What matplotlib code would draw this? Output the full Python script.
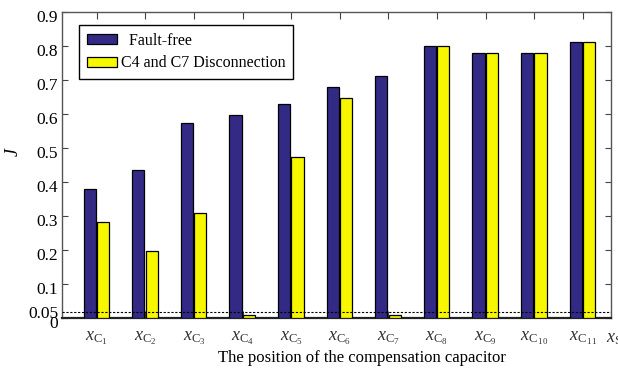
import matplotlib
matplotlib.use("Agg")
import matplotlib.pyplot as plt
import matplotlib.transforms as mtransforms
import numpy as np

plt.rcParams['font.family'] = 'Liberation Serif'
plt.rcParams['mathtext.fontset'] = 'custom'
plt.rcParams['mathtext.rm'] = 'Liberation Serif'
plt.rcParams['mathtext.it'] = 'Liberation Serif:italic'

# J index per capacitor position
positions = ['1', '2', '3', '4', '5', '6', '7', '8', '9', '\\,10', '\\,11']
fault_free = [0.379, 0.436, 0.573, 0.596, 0.629, 0.679, 0.711, 0.799, 0.780, 0.780, 0.811]
c4_c7_off = [0.281, 0.197, 0.308, 0.008, 0.473, 0.646, 0.008, 0.799, 0.780, 0.780, 0.811]
yticks = [0, 0.1, 0.2, 0.3, 0.4, 0.5, 0.6, 0.7, 0.8, 0.9]
ytick_labels = ['0', '0.1', '0.2', '0.3', '0.4', '0.5', '0.6', '0.7', '0.8', '0.9']
threshold_pos = 0.018  # dotted threshold line
threshold_label_pos = 0.03

x = np.arange(1, len(positions) + 1)
w = 0.25

fig = plt.figure(figsize=(6.18, 3.72), dpi=100)
ax = fig.add_axes([0.1008, 0.1452, 0.8874, 0.8226])

ax.bar(x - 0.145, fault_free, w, color='#332a85', edgecolor='black', linewidth=0.9,
       label='  Fault-free', zorder=3)
ax.bar(x + 0.13, c4_c7_off, w, color='#f7f700', edgecolor='black', linewidth=0.9,
       label='C4 and C7 Disconnection', zorder=3)
ax.axhline(threshold_pos, color='black', linestyle=(0, (2, 1.5)), linewidth=0.8, zorder=4)

ax.set_xlim(0.292, 11.576)
ax.set_ylim(0, 0.9)
ax.set_xticks(x)
ax.set_xticklabels([r'$x_{\mathrm{C}_{%s}}$' % p for p in positions], fontsize=13, color='#333333')
ax.set_yticks(yticks)
ax.set_yticklabels(ytick_labels, fontsize=12.5)
ax.set_yticks([threshold_label_pos], minor=True)
ax.set_yticklabels(['0.05'], minor=True, fontsize=12.5)
ax.tick_params(axis='both', direction='in', length=4, top=True, right=True, color='#444444')
ax.tick_params(axis='x', pad=8, length=5)
ax.tick_params(axis='y', pad=3)
ax.tick_params(axis='y', which='minor', length=0, pad=3)
ax.tick_params(axis='x', which='minor', bottom=False, top=False)

# nudge y labels a little downward
shift = mtransforms.ScaledTranslation(0, -4 / 100, fig.dpi_scale_trans)
for lbl in ax.get_yticklabels() + ax.get_yticklabels(minor=True):
    lbl.set_transform(lbl.get_transform() + shift)

for side in ['left', 'top', 'right']:
    ax.spines[side].set_color('#555555')
    ax.spines[side].set_linewidth(1.0)
ax.spines['bottom'].set_color('#222222')
ax.spines['bottom'].set_linewidth(1.6)

ax.set_xlabel('The position of the compensation capacitor', fontsize=12)
ax.xaxis.set_label_coords(0.5465, -0.105)
ax.set_ylabel(r'$J$', fontsize=13)
ax.yaxis.set_label_coords(-0.074, 0.542)

fig.text(0.981, 0.09, r'$x_{\mathrm{S}}$', fontsize=13, color='#333333', va='center')

leg = ax.legend(loc='upper left', bbox_to_anchor=(0.0305, 0.9575), fontsize=11.5,
                frameon=True, fancybox=False, edgecolor='black', framealpha=1,
                handlelength=1.85, handleheight=0.6, handletextpad=0.25,
                borderpad=0.5, labelspacing=0.4, borderaxespad=0)
leg.get_frame().set_linewidth(1.0)

fig.savefig('out.png', dpi=100)
